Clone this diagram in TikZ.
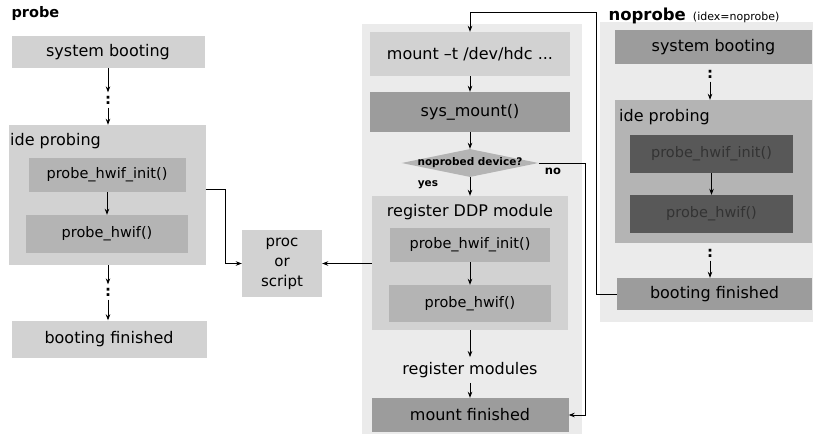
\documentclass[tikz,border=0pt]{standalone}
\usepackage{fontspec}
\setmainfont{DejaVu Sans}
\usetikzlibrary{arrows.meta,shapes.geometric}
\definecolor{panel}{HTML}{EBEBEB}
\definecolor{lite}{HTML}{D2D2D2}
\definecolor{midg}{HTML}{B4B4B4}
\definecolor{darkg}{HTML}{9C9C9C}
\definecolor{vdark}{HTML}{585858}
\begin{document}
\begin{tikzpicture}[x=1pt,y=-1pt,
  box/.style={rectangle, inner sep=0pt, font=\fontsize{16}{19}\selectfont},
  inbox/.style={rectangle, inner sep=0pt, font=\fontsize{14.5}{17}\selectfont},
  dots/.style={font=\fontsize{15}{18}\selectfont\bfseries},
  small/.style={font=\fontsize{10.5}{12}\selectfont\bfseries},
  arr/.style={-{Stealth[length=6pt,width=4.5pt]}, line width=0.8pt},
  ln/.style={line width=0.8pt}]
\useasboundingbox (0,0) rectangle (813,434);
% background panels
\fill[panel] (362,24) rectangle (582,434);
\fill[panel] (600,22) rectangle (813,322);
% ---------------- left column: probe
\node[anchor=west, font=\fontsize{14.5}{16}\selectfont\bfseries] (t1) at (8,13) {probe};
\node[box, fill=lite, minimum width=193pt, minimum height=32pt] (sb1) at (108,52) {system booting};
\node[dots] (d1) at (108,100) {:};
\node[box, fill=lite, minimum width=197pt, minimum height=140pt] (ide1) at (107,195) {};
\node[box, anchor=west] (ide1l) at (10,141) {ide probing};
\node[inbox, fill=midg, minimum width=157pt, minimum height=34pt] (pi1) at (107,175) {probe\_hwif\_init()};
\node[inbox, fill=midg, minimum width=162pt, minimum height=38pt] (ph1) at (107,234) {probe\_hwif()};
\node[dots] (d2) at (108,292) {:};
\node[box, fill=lite, minimum width=195pt, minimum height=37pt] (bf1) at (109,339) {booting finished};
\draw[arr] (sb1.south -| d1) -- (d1.north);
\draw[arr] (d1.south) -- (d1.south |- ide1.north);
\draw[arr] (pi1.south) -- (ph1.north);
\draw[arr] (ide1.south -| d2) -- (d2.north);
\draw[arr] (d2.south) -- (d2.south |- bf1.north);
% proc
\node[box, fill=lite, minimum width=80pt, minimum height=67pt, align=center, font=\fontsize{15}{20}\selectfont] (proc) at (282,263.5) {proc\\or\\script};
\coordinate (lj) at (225,189);
\draw[arr] (ide1.east |- lj) -- (lj) |- (proc.west);
% ---------------- middle column
\node[box, fill=lite, minimum width=200pt, minimum height=44pt] (mnt) at (470,54) {mount –t /dev/hdc ...};
\node[box, fill=darkg, minimum width=200pt, minimum height=40pt] (sys) at (470,112) {sys\_mount()};
\node[diamond, fill=midg, minimum width=137pt, minimum height=28pt, inner sep=0pt] (dia) at (470,163) {};
\node[small, inner sep=0pt] (diat) at (dia.center) {noprobed device?};
\node[small] (yes) at (428,185) {yes};
\node[font=\fontsize{11.5}{13}\selectfont\bfseries] (no) at (553,171) {no};
\node[box, fill=lite, minimum width=196pt, minimum height=134pt] (ddp) at (470,263) {};
\node[box] (ddpl) at (470,212) {register DDP module};
\node[inbox, fill=midg, minimum width=160pt, minimum height=34pt] (pi3) at (470,245) {probe\_hwif\_init()};
\node[inbox, fill=midg, minimum width=162pt, minimum height=37pt] (ph3) at (470,303.5) {probe\_hwif()};
\node[box, inner sep=5pt] (rm) at (470,370) {register modules};
\node[box, fill=darkg, minimum width=197pt, minimum height=34pt] (mf) at (470,415) {mount finished};
\draw[arr] (mnt.south) -- (sys.north);
\draw[arr] (sys.south) -- (dia.north);
\draw[arr] (dia.south) -- (ddp.north);
\draw[arr] (pi3.south) -- (ph3.north);
\draw[arr] (ddp.south) -- (rm.north);
\draw[arr] (rm.south) -- (mf.north);
\draw[arr] (ddp.west |- proc.west) -- (proc.east);
\coordinate (nx) at (585,163);
\draw[arr] (dia.east) -- (nx) |- (mf.east);
% ---------------- right column: noprobe
\node[anchor=west, font=\fontsize{16.5}{18}\selectfont\bfseries] (t2) at (605,16) {noprobe};
\node[anchor=base west, font=\fontsize{11}{13}\selectfont] (t2b) at (t2.base east) {(idex=noprobe)};
\node[box, fill=darkg, minimum width=197pt, minimum height=34pt] (sb2) at (713.5,47) {system booting};
\node[dots] (d3) at (710,74) {:};
\node[box, fill=midg, minimum width=197pt, minimum height=143pt] (ide2) at (713.5,171.5) {};
\node[box, anchor=west] (ide2l) at (619,117) {ide probing};
\node[inbox, fill=vdark, text=black!80, minimum width=163pt, minimum height=38pt] (pi2) at (711.5,154) {probe\_hwif\_init()};
\node[inbox, fill=vdark, text=black!80, minimum width=163pt, minimum height=38pt] (ph2) at (711.5,214) {probe\_hwif()};
\node[dots] (d4) at (710,253) {:};
\node[box, fill=darkg, minimum width=195pt, minimum height=32pt] (bf2) at (714.5,294) {booting finished};
\draw[arr] (d3.south) -- (d3.south |- ide2.north);
\draw[arr] (pi2.south) -- (ph2.north);
\draw[arr] (d4.south) -- (d4.south |- bf2.north);
\coordinate (tx) at (596,12);
\draw[arr] (bf2.west) -| (tx) -| (mnt.north);
\end{tikzpicture}
\end{document}
